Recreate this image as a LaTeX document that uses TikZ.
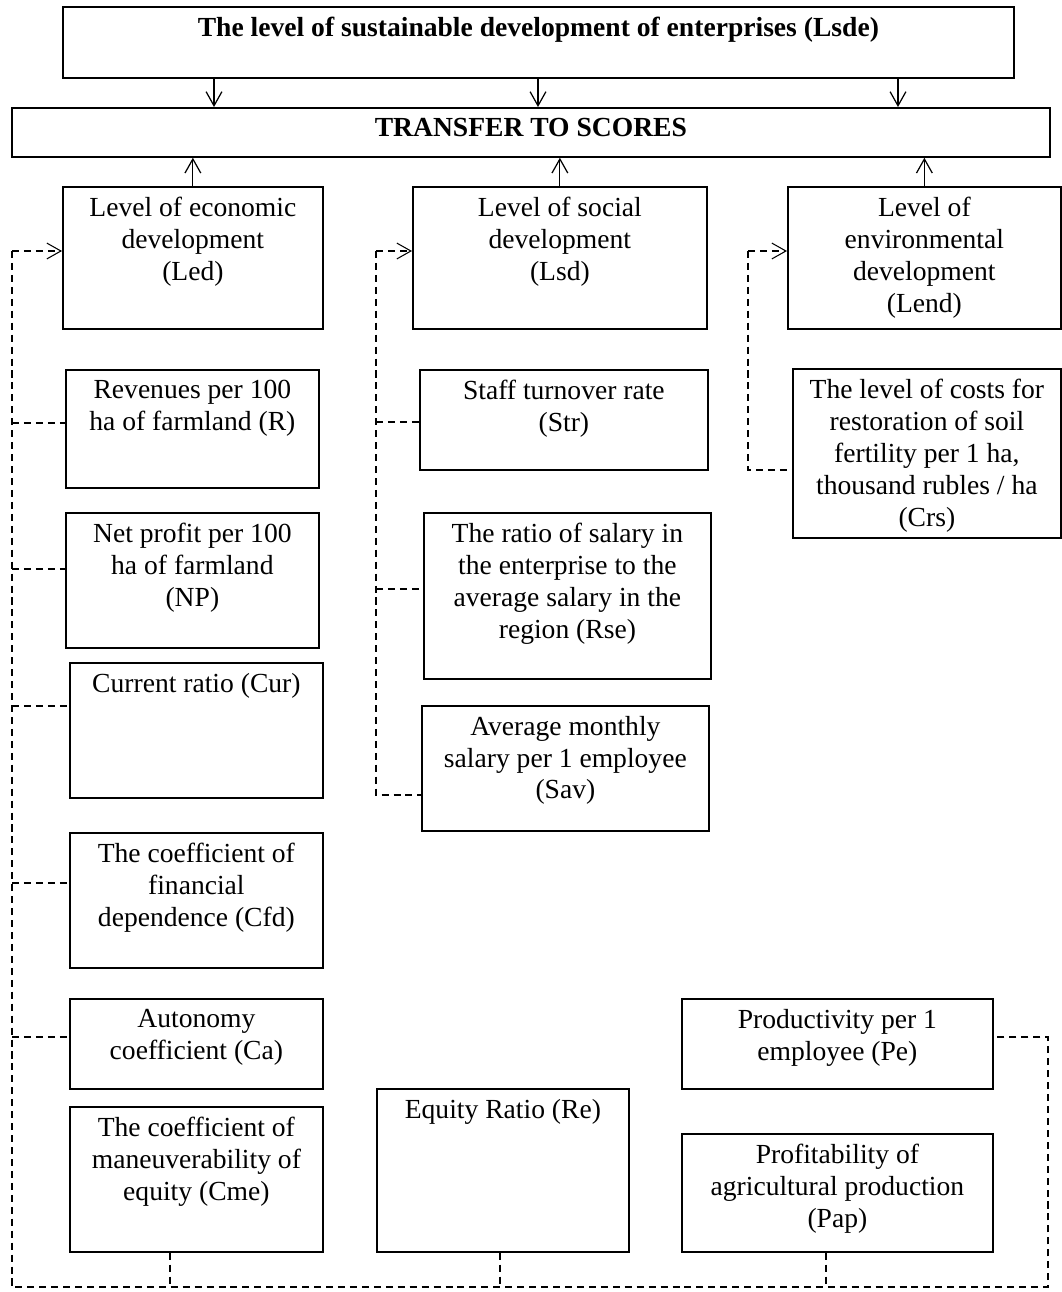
\documentclass[tikz,border=0pt]{standalone}
\usepackage{fontspec}
\setmainfont{Liberation Serif}
\usepackage{tikz}
\usetikzlibrary{arrows.meta}

\newdimen\px
\px=0.02cm
\newcommand{\cellbox}[3]{\parbox[t][#2\px][t]{#1\px}{\centering\vspace*{10\px}#3\par}}

\begin{document}
\begin{tikzpicture}[x=0.02cm,y=-0.02cm,
  cell/.style={draw,line width=1pt,anchor=north west,inner sep=0pt,
    font=\fontsize{15.7pt}{18.2pt}\selectfont},
  >={Straight Barb[length=8pt,width=9pt]},
  arr/.style={line width=0.7pt,->},
  link/.style={line width=0.6pt,dash pattern=on 4pt off 2.8pt}]
\useasboundingbox (0,0) rectangle (1062,1292);

\node[cell,font=\fontsize{15.7pt}{18.2pt}\selectfont\bfseries] (top) at (62,6) {\cellbox{951}{71}{The level of sustainable development of enterprises (Lsde)}};
\node[cell,font=\fontsize{15.7pt}{18.2pt}\selectfont\bfseries] (tts) at (11,107) {\cellbox{1038}{49}{TRANSFER TO SCORES}};

\node[cell] (led) at (62,186) {\cellbox{260}{142}{Level of economic\\development\\(Led)}};
\node[cell] (lsd) at (412,186) {\cellbox{294}{142}{Level of social\\development\\(Lsd)}};
\node[cell] (lend) at (787,186) {\cellbox{273}{142}{Level of\\environmental\\development\\(Lend)}};

% economic
\node[cell] (r) at (65,369) {\cellbox{253}{118}{Revenues per 100\\ha of farmland (R)}};
\node[cell] (np) at (65,512) {\cellbox{253}{135}{Net profit per 100\\ha of farmland\\(NP)}};
\node[cell] (cur) at (69,662) {\cellbox{253}{135}{Current ratio (Cur)}};
\node[cell] (cfd) at (69,832) {\cellbox{253}{135}{The coefficient of\\financial\\dependence (Cfd)}};
\node[cell] (ca) at (69,998) {\cellbox{253}{90}{Autonomy\\coefficient (Ca)}};
\node[cell] (cme) at (69,1106) {\cellbox{253}{145}{The coefficient of\\maneuverability of\\equity (Cme)}};
\node[cell] (re) at (376,1088) {\cellbox{252}{163}{Equity Ratio (Re)}};
\node[cell] (pe) at (681,998) {\cellbox{311}{90}{Productivity per 1\\employee (Pe)}};
\node[cell] (pap) at (681,1133) {\cellbox{311}{118}{Profitability of\\agricultural production\\(Pap)}};

% social
\node[cell] (str) at (419,369) {\cellbox{288}{100}{Staff turnover rate\\(Str)}};
\node[cell] (rse) at (423,512) {\cellbox{287}{166}{The ratio of salary in\\the enterprise to the\\average salary in the\\region (Rse)}};
\node[cell] (sav) at (421,705) {\cellbox{287}{125}{Average monthly\\salary per 1 employee\\(Sav)}};

% environmental
\node[cell] (crs) at (792,368) {\cellbox{268}{169}{The level of costs for\\restoration of soil\\fertility per 1 ha,\\thousand rubles / ha\\(Crs)}};

\foreach \x in {214,538,898}
  \draw[arr] (top.south -| \x,0) -- (tts.north -| \x,0);
\foreach \n in {led,lsd,lend}
  \draw[arr] (\n.north) -- (\n.north |- tts.south);

\coordinate (eco) at (12,251);
\coordinate (ecob) at (12,1287);
\coordinate (ecor) at (1048,1287);
\draw[link,->] (eco) -- (led.west |- eco);
\draw[link] (eco) -- (ecob) -- (ecor) |- (pe.east |- 0,1037);
\foreach \n/\y in {r/423,np/569,cur/706,cfd/883,ca/1037}
  \draw[link] (eco |- 0,\y) -- (\n.west |- 0,\y);
\foreach \n/\x in {cme/170,re/500,pap/826}
  \draw[link] (\n.south -| \x,0) -- (ecob -| \x,0);

\coordinate (soc) at (376,251);
\coordinate (socb) at (376,795);
\draw[link,->] (soc) -- (lsd.west |- soc);
\draw[link] (soc) -- (socb) -- (sav.west |- socb);
\foreach \n/\y in {str/422,rse/589}
  \draw[link] (soc |- 0,\y) -- (\n.west |- 0,\y);

\coordinate (env) at (748,251);
\coordinate (envb) at (748,470);
\draw[link,->] (env) -- (lend.west |- env);
\draw[link] (env) -- (envb) -- (crs.west |- envb);
\end{tikzpicture}
\end{document}
